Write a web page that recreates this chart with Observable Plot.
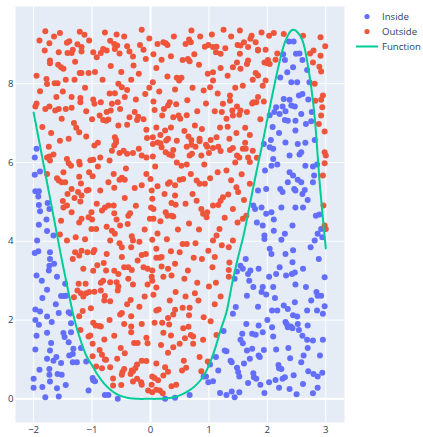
<!DOCTYPE html>
<html>
<head>
<meta charset="utf-8">
<script src="https://cdn.jsdelivr.net/npm/d3@7"></script>
<script src="https://cdn.jsdelivr.net/npm/@observablehq/plot@0.6"></script>
<style>
  body { margin: 0; background: #fff; }
  #wrap { position: relative; width: 423px; height: 437px; font-family: 'Open Sans', sans-serif; overflow: visible; }
  #legend { position: absolute; left: 354px; top: 9px; width: 69px; font-size: 9.6px; line-height: 15px; color: #2a3f5f; white-space: nowrap; }
  #legend .row { display: flex; align-items: center; height: 15px; white-space: nowrap; }
  #legend svg { width: 28px; height: 15px; flex: none; }
</style>
</head>
<body>
<div id="wrap"><div id="chart"></div><div id="legend"></div></div>
<script>
const xTicks = [-2, -1, 0, 1, 2, 3];
const yTicks = [0, 2, 4, 6, 8];
const zeroTick = [0];

const seriesNames = ["Inside", "Outside", "Function"];
const seriesColors = ["#636efa", "#EF553B", "#00cc96"];

// function curve
const fnX = [-2,-1.9,-1.8,-1.7,-1.6,-1.5,-1.4,-1.3,-1.2,-1.1,-1.0,-0.9,-0.8,-0.7,-0.6,-0.5,-0.4,-0.3,-0.2,-0.1,0,0.1,0.2,0.3,0.4,0.5,0.6,0.7,0.8,0.9,1.0,1.1,1.2,1.3,1.4,1.5,1.6,1.7,1.8,1.9,2.0,2.1,2.2,2.3,2.4,2.45,2.5,2.6,2.7,2.8,2.9,3.0];
const fnY = [7.27,6.5,5.72,4.95,4.17,3.4,2.68,2.0,1.5,1.1,0.85,0.6,0.4,0.25,0.14,0.07,0.03,0.01,0.0,0.0,0.0,0.0,0.005,0.015,0.04,0.09,0.16,0.25,0.38,0.56,0.85,1.25,1.75,2.2,2.95,3.6,4.2,4.93,5.67,6.37,7.1,7.82,8.5,9.05,9.34,9.37,9.33,9.1,8.4,7.3,5.4,3.82];

// points under the curve
const inside = [
[-2.0,0.51],[-2.0,0.28],[-1.97,2.27],[-1.97,2.0],[-1.97,1.25],[-1.91,1.88],[-1.89,2.22],[-1.9,0.74],[-1.85,2.56],[-1.8,0.04],[-1.77,2.09],[-1.77,1.68],[-1.77,1.02],[-1.73,0.76],[-1.72,1.23],[-1.7,1.42],[-1.73,0.61],[-1.72,0.44],[-1.69,1.95],[-1.66,0.97],[-1.61,1.06],[-1.6,0.27],[-1.57,2.18],[-1.57,0.06],[-1.59,0.63],[-1.53,0.91],[-1.52,0.61],[-1.53,2.61],[-1.49,1.67],[-1.47,1.57],[-1.48,2.61],[-1.44,2.62],[-1.4,1.44],[-1.37,2.17],[-1.39,1.1],[-1.36,1.69],[-1.36,1.92],[-1.33,0.93],[-1.33,1.14],[-1.32,1.27],[-1.26,0.93],[-1.19,1.29],[-1.1,0.95],[-1.06,0.21],[-0.99,0.53],[-0.98,0.47],[-0.95,0.45],[-0.78,0.1],[-0.72,0.1],[-0.56,0.0],[0.25,0.0],[0.42,0.03],[0.67,0.1],[0.91,0.57],[0.95,0.57],[1.02,0.87],[0.99,0.42],[1.07,0.45],[1.12,1.06],[1.16,0.72],[1.19,0.15],[1.25,1.72],[1.27,1.23],[1.3,1.21],[1.3,0.1],[1.37,0.97],[1.39,0.93],[1.39,0.19],[1.41,2.16],[1.44,0.04],[1.46,2.33],[1.48,0.79],[1.5,0.68],[1.52,0.57],[1.52,0.17],[1.54,1.5],[1.57,1.65],[1.58,1.41],[1.64,1.9],[1.65,2.62],[1.65,1.23],[1.67,0.4],[1.7,1.02],[1.74,1.65],[1.74,1.27],[1.76,0.65],[1.77,0.55],[1.8,1.63],[1.81,0.51],[1.84,2.34],[1.85,1.86],[1.85,1.1],[1.87,1.06],[1.88,0.36],[1.9,2.71],[1.92,1.69],[1.94,1.24],[1.98,2.65],[2.03,0.42],[2.08,1.82],[2.1,1.58],[2.08,2.24],[2.13,2.56],[2.14,0.48],[2.17,2.24],[2.19,0.86],[2.2,0.78],[2.2,0.28],[2.24,0.76],[2.26,0.51],[2.28,2.37],[2.31,1.95],[2.33,1.9],[2.35,2.28],[2.35,1.82],[2.36,1.29],[2.38,0.25],[2.39,1.03],[2.4,1.84],[2.43,1.79],[2.44,2.12],[2.47,2.45],[2.51,2.09],[2.52,1.9],[2.54,1.75],[2.58,0.93],[2.61,0.38],[2.62,1.1],[2.68,2.24],[2.69,1.86],[2.68,1.5],[2.69,1.29],[2.78,1.48],[2.79,0.63],[2.78,0.14],[2.84,2.71],[2.86,2.62],[2.85,2.24],[2.86,0.57],[2.86,0.28],[2.9,1.1],[2.92,2.62],[2.94,0.66],[2.95,2.16],[2.98,2.35],
[-1.95,1.6],[-1.85,0.3],[-1.62,2.4],[-1.45,0.35],[-1.4,2.2],[2.0,2.0],[2.3,0.55],[2.5,0.12],[2.7,0.7],[2.95,1.5],[2.6,1.6],[2.45,0.6],[1.6,0.9],[1.95,0.15],[2.15,1.25],[2.75,2.5],
[-1.98,6.13],[-1.95,6.35],[-1.98,5.69],[-1.89,5.77],[-1.97,5.27],[-1.91,5.27],[-1.92,5.14],[-1.91,4.92],[-1.89,4.76],[-1.76,4.97],[-1.73,4.82],[-1.91,4.42],[-1.78,4.55],[-1.77,4.26],[-1.66,4.15],[-1.94,4.02],[-1.98,3.7],[-1.92,3.75],[-1.72,3.72],[-1.72,3.55],[-1.73,3.38],[-1.65,3.43],[-1.95,3.13],[-1.86,3.0],[-1.6,3.1],[-1.46,2.92],[-1.74,3.26],[-1.77,2.77],
[1.94,6.47],[2.1,6.35],[2.1,6.09],[2.17,5.95],[2.07,5.92],[1.96,5.8],[2.31,6.51],[2.38,6.18],[2.52,6.47],[2.58,6.26],[2.65,5.92],[2.78,5.9],[2.8,5.67],[2.78,5.5],[2.85,5.95],[2.35,5.5],[2.38,5.75],[2.44,5.67],[2.52,5.56],[2.58,5.5],[2.46,5.33],[2.48,5.29],[2.6,5.2],[2.22,5.33],[2.26,5.25],[2.24,4.86],[1.98,5.33],[1.84,5.29],[1.76,4.91],[1.79,4.82],[1.9,4.86],[1.98,4.7],[2.07,4.74],[2.11,4.55],[2.11,4.27],[1.82,4.48],[1.92,4.4],[1.95,4.15],[1.95,4.06],[2.04,3.81],[2.07,3.68],[2.24,4.04],[2.3,4.19],[2.31,3.68],[2.21,3.34],[2.32,3.13],[2.43,4.4],[2.48,4.86],[2.44,3.77],[2.43,3.47],[2.47,3.21],[2.42,3.17],[2.48,2.9],[2.61,3.3],[2.66,2.84],[2.69,5.05],[2.61,4.86],[2.64,5.3],[2.74,3.85],[2.81,4.02],[2.83,4.65],[2.89,4.68],[2.92,4.31],[2.86,4.19],[2.94,4.1],[2.88,3.55],[2.98,3.09],[1.58,3.3],[1.63,3.55],[1.71,3.26],[1.67,3.17],[1.69,3.0],[1.76,2.84],[1.85,3.3],[1.92,2.84],[2.03,3.1],[2.15,3.17],[2.1,2.84],[1.44,3.05],[1.48,3.23],[1.54,3.38],
[2.37,9.07],[2.45,9.07],[2.49,8.76],[2.55,8.77],[2.27,8.75],[2.44,8.42],[2.34,8.29],[2.22,8.16],[2.41,8.04],[2.51,8.04],[2.68,8.35],[2.72,8.04],[2.54,7.7],[2.6,7.74],[2.38,7.59],[2.28,7.61],[2.26,7.42],[2.15,7.4],[2.31,7.3],[2.41,7.45],[2.47,7.42],[2.04,7.2],[2.12,7.28],[2.21,7.23],[2.3,7.08],[2.35,7.06],[2.48,7.06],[2.58,7.23],[2.66,6.98],[2.75,7.05],[2.76,7.28],[2.09,6.9],[2.06,6.57],[2.48,6.81],[2.04,6.39],[2.81,6.57],
[2.65,6.5],[2.2,6.75],[2.55,6.2],[2.7,7.6],[2.3,8.6],[2.6,8.6]
];

// points above the curve
const outside = [
[-1.25,2.75],[-1.19,2.68],[-1.1,2.68],[-1.05,2.71],[-1.15,2.6],[-1.31,2.58],[-1.16,2.23],[-1.02,2.3],[-0.96,2.72],[-0.78,2.61],[-0.85,2.75],[-0.79,2.5],[-0.69,2.48],[-0.56,2.75],[-0.52,2.14],[-0.49,2.18],[-0.34,2.51],[-0.33,2.1],[-0.19,2.34],[-0.98,1.93],[-0.94,1.86],[-0.88,1.85],[-0.85,1.84],[-1.2,1.75],[-1.06,1.58],[-1.03,1.61],[-0.99,1.4],[-0.99,1.08],[-0.87,1.24],[-0.79,1.51],[-0.83,1.12],[-0.78,1.0],[-0.76,0.99],[-0.93,0.82],[-0.83,0.78],[-0.64,0.34],[-0.57,1.02],[-0.51,1.29],[-0.44,1.16],[-0.45,0.76],[-0.48,0.68],[-0.49,0.61],[-0.33,1.84],[-0.33,1.69],[-0.45,1.9],[-0.28,1.42],[-0.22,1.42],[-0.32,0.72],[-0.3,0.7],[-0.26,0.78],[-0.23,0.87],[-0.3,0.44],[-0.16,0.42],[-0.07,0.96],[-0.07,1.55],[-0.05,1.41],[0.05,2.64],[0.07,1.93],[0.1,2.24],[0.14,2.27],[0.18,1.37],[0.2,1.93],[0.22,1.68],[0.3,2.05],[0.32,1.89],[0.33,2.5],[0.35,1.61],[0.39,2.14],[0.42,2.26],[0.43,2.71],[0.3,1.17],[0.39,1.31],[0.5,1.4],[0.55,2.31],[0.56,1.79],[0.59,1.54],[0.65,1.83],[0.66,2.12],[0.67,2.31],[0.69,1.62],[0.73,1.58],[0.73,1.4],[0.76,2.68],[0.82,2.5],[0.91,2.07],[1.03,1.97],[1.13,1.62],[0.98,0.95],[0.87,0.7],[0.84,1.06],[0.57,0.97],[0.61,0.79],[0.54,0.72],[0.44,0.36],[0.36,0.32],[0.3,0.69],[0.25,0.8],[0.22,0.59],[0.16,0.21],[0.13,0.47],[0.07,0.53],[0.03,0.57],[0.02,0.36],[-0.04,0.21],[0.03,0.17],[0.1,0.23],[0.21,0.14],[-0.15,0.97],[-0.15,0.36],[-0.23,0.51],[-0.34,0.63],[-0.64,0.52],[-0.69,0.8],
[-0.62,1.6],[-0.7,2.0],[-0.1,2.6],[0.9,1.5],[1.1,2.4],[1.2,2.6],[-1.22,2.1],[-0.4,2.4],[0.6,2.6],[-0.15,1.9],[0.1,0.9],[-0.5,0.35],
[-1.74,6.4],[-1.77,6.13],[-1.73,6.15],[-1.72,6.05],[-1.77,5.71],[-1.57,5.54],[-1.52,5.5],[-1.46,5.5],[-1.49,5.75],[-1.43,6.09],[-1.4,5.98],[-1.35,5.33],[-1.22,6.02],[-1.21,5.95],[-1.22,5.64],[-1.19,5.47],[-1.24,5.25],[-1.18,5.16],[-1.2,5.01],[-1.09,5.29],[-1.06,5.3],[-1.03,6.06],[-0.98,6.07],[-0.99,5.65],[-0.96,6.43],[-0.86,6.13],[-0.86,5.29],[-0.62,6.43],[-0.59,6.51],[-0.66,6.3],[-0.53,6.24],[-0.46,6.3],[-0.4,6.22],[-0.3,6.24],[-0.15,6.18],[-0.07,6.13],[0.04,6.15],[0.04,6.47],[0.12,6.51],[0.17,6.49],[0.19,6.39],[0.26,6.26],[0.32,6.2],[0.37,6.18],[0.39,6.32],[0.62,6.4],[0.67,6.18],[0.71,6.22],[0.77,6.4],[0.84,6.54],[0.87,6.18],[0.97,6.4],[1.0,6.24],[1.07,6.37],[1.16,6.4],[1.2,6.29],[1.36,6.32],[1.41,6.37],[1.48,6.18],[1.52,6.13],[1.58,6.35],[1.63,6.35],[1.67,6.13],[1.7,6.01],[1.82,6.12],
[-1.36,5.92],[-1.35,4.74],[-1.43,4.91],[-1.49,4.86],[-1.5,5.02],[-1.53,4.52],[-1.55,4.17],[-1.22,4.48],[-1.18,4.57],[-1.06,4.61],[-1.01,4.31],[-1.01,4.74],[-0.93,4.31],[-0.83,4.78],[-0.78,4.86],[-0.72,4.91],[-0.75,4.37],[-0.66,4.27],[-0.61,4.19],[-0.62,4.71],[-0.63,4.91],[-0.62,5.36],[-0.63,5.71],[-0.53,5.56],[-0.49,5.61],[-0.44,5.56],[-0.44,5.1],[-0.35,4.71],[-0.38,4.65],[-0.39,4.44],[-0.32,4.13],[-0.3,4.02],[-0.33,3.85],[-0.19,3.99],[-0.15,5.42],[-0.07,5.71],[0.0,5.58],[0.02,5.29],[0.03,5.08],[0.01,4.86],[0.05,4.82],[-0.01,4.57],[0.05,4.57],[0.03,4.04],[0.1,3.81],[0.1,3.58],[0.16,3.58],[0.19,3.6],[0.19,3.36],[0.17,4.51],[0.26,4.74],[0.29,4.65],[0.36,4.65],[0.39,4.63],[0.36,4.97],[0.43,4.93],[0.3,5.46],[0.33,5.5],[0.42,5.42],[0.5,5.56],[0.56,5.58],[0.42,5.16],[0.53,5.92],[0.62,5.95],[0.69,5.71],[0.79,5.54],[0.84,5.46],[0.93,5.46],[0.79,5.03],[0.87,4.82],[0.9,4.7],[0.96,4.61],[0.97,4.74],[1.07,4.91],[1.16,4.92],[1.2,5.03],[1.24,5.12],[1.33,5.19],[1.41,4.82],[1.47,5.37],[1.5,5.25],[1.18,4.31],[1.13,4.15],[1.07,4.02],[0.99,3.76],[1.06,3.34],[0.74,3.58],[0.64,3.26],[0.55,3.93],[0.62,3.93],[0.5,3.72],[0.42,3.43],[0.36,3.13],[0.3,3.3],[0.1,2.83],[-0.05,3.3],[-0.08,3.68],[-0.12,3.34],[0.03,3.26],[0.02,3.1],[0.03,3.0],[-0.22,3.51],[-0.32,3.27],[-0.38,3.34],[-0.45,3.34],[-0.49,3.6],[-0.55,3.17],[-0.58,2.96],[-0.69,2.96],[-0.76,3.26],[-0.81,3.0],[-0.98,3.25],[-0.98,3.72],[-0.96,3.78],[-1.08,3.72],[-1.18,3.76],[-1.29,3.72],[-1.33,3.55],[-1.22,3.64],[-1.23,2.92],[-1.11,2.92],[-0.91,3.39],[-0.75,3.68],[-0.53,3.95],[-0.49,3.85],[-0.69,4.02],[-1.43,4.02],
[1.34,3.85],[1.35,3.46],[1.34,3.27],[1.34,3.1],[1.41,4.02],[1.49,4.48],[1.58,4.57],[1.64,4.65],[1.7,5.46],
[2.98,6.26],[3.0,6.18],[2.98,5.98],[2.95,5.67],[2.96,4.91],[2.98,4.4],[3.0,4.31],
[-1.28,4.1],[-1.15,3.3],[-1.05,5.75],[-0.92,4.95],[-0.9,5.9],[-0.8,3.45],[-0.72,5.5],[-0.7,6.05],[-0.58,4.55],[-0.55,2.85],[-0.42,5.85],[-0.38,3.05],[-0.27,5.35],[-0.25,4.9],[-0.2,6.35],[-0.1,4.3],[-0.05,2.9],[0.08,5.9],[0.12,4.2],[0.22,3.1],[0.24,5.2],[0.28,4.05],[0.45,6.0],[0.47,4.3],[0.58,3.05],[0.6,4.95],[0.66,4.45],[0.72,5.2],[0.77,3.95],[0.8,2.95],[0.83,4.3],[0.88,3.55],[0.92,5.95],[1.02,5.6],[1.1,3.6],[1.12,2.95],[1.15,5.75],[1.22,3.9],[1.27,4.6],[1.3,5.8],[1.38,5.55],[1.45,6.0],[-1.12,4.05],[-1.3,5.1],[-0.62,3.25],[-0.15,3.65],[0.35,3.75],[0.7,6.45],[-0.85,2.95],[-1.0,4.55],[-0.52,4.4],[0.12,5.4],[-1.42,5.2],[-1.6,5.6],[-1.66,6.2],[1.56,5.7],[1.6,5.05],[1.75,6.3],[1.0,2.85],[-0.3,2.9],
[-1.8,9.33],[-1.55,9.29],[-1.21,9.32],[-1.13,9.24],[-0.58,9.25],[-0.15,9.37],[0.7,9.35],[1.25,9.37],[1.53,9.35],[1.73,9.22],[2.03,9.22],[2.11,9.29],[2.28,9.26],[2.61,9.22],[2.91,9.18],[2.99,8.95],
[-1.73,9.03],[-1.43,9.04],[-1.39,9.08],[-1.18,8.93],[-1.18,8.82],[-1.33,8.86],[-1.35,8.78],[-1.42,8.78],[-1.81,8.84],[-1.72,8.59],[-1.72,8.52],[-1.57,8.8],[-1.58,8.48],[-1.49,8.38],[-1.53,8.42],[-1.29,8.56],[-1.21,8.27],[-1.18,8.27],[-1.06,8.27],[-0.92,8.67],[-0.85,8.78],[-0.81,8.88],[-0.75,8.84],[-0.69,9.09],[-0.62,9.01],[-0.61,8.88],[-0.57,8.97],[-0.53,8.77],[-0.36,8.82],[-0.3,8.69],[-0.29,8.46],[-0.18,8.98],[-0.12,8.86],[-0.08,8.63],[0.12,9.01],[0.22,9.05],[0.26,9.03],[0.29,8.98],[0.19,8.61],[0.6,9.01],[0.66,9.12],[0.69,9.05],[0.64,8.63],[0.67,8.57],[0.83,8.48],[0.93,8.94],[0.99,8.98],[1.07,8.93],[1.13,8.94],[1.12,8.8],[1.2,8.76],[1.54,8.97],[1.67,8.93],[1.71,9.14],[1.8,9.05],[1.84,8.86],[1.97,8.86],[2.17,8.77],[2.14,8.61],[2.01,8.6],[2.0,8.52],[2.73,8.77],[2.91,8.71],[2.78,8.54],[2.89,8.43],[2.92,8.31],[1.49,8.98],[1.53,8.76],[1.65,8.5],[1.67,8.59],[1.48,8.54],[1.41,8.42],[1.54,8.38],[1.8,8.27],[1.84,8.21],[1.07,8.29],
[-1.89,7.81],[-1.97,7.42],[-1.95,7.5],[-1.78,8.12],[-1.77,7.99],[-1.64,8.01],[-1.59,8.01],[-1.61,7.66],[-1.8,7.36],[-1.73,7.42],[-1.57,7.36],[-1.63,7.32],[-1.52,7.11],[-1.45,7.36],[-1.35,7.39],[-1.35,7.66],[-1.2,7.64],[-1.2,7.53],[-1.31,7.0],[-1.27,6.88],[-1.22,6.77],[-1.1,6.66],
[-0.98,7.6],[-0.96,7.49],[-0.85,7.53],[-0.87,7.19],[-0.81,7.08],[-0.76,7.06],[-0.72,7.09],[-0.68,7.32],[-0.66,7.49],[-0.75,7.28],[-0.61,7.76],[-0.61,6.64],[-0.59,6.57],[-0.56,7.53],[-0.55,6.94],[-0.52,7.36],[-0.49,7.91],[-0.44,7.66],[-0.4,7.84],[-0.4,6.96],[-0.36,7.15],[-0.27,7.28],[-0.23,7.08],[-0.21,7.16],[-0.09,7.74],[-0.07,6.83],[-0.06,6.62],[0.04,8.04],[0.04,6.64],[0.07,7.33],[0.1,6.89],
[0.2,7.19],[0.23,7.36],[0.29,8.18],[0.3,7.45],[0.33,7.53],[0.25,6.81],[0.27,6.56],[0.35,6.89],[0.39,7.15],[0.45,8.15],[0.49,8.08],[0.53,8.15],[0.44,7.48],[0.48,7.19],[0.51,7.11],[0.63,7.58],[0.65,6.66],[0.7,6.57],[0.76,6.94],[0.84,6.6],[0.91,7.83],[1.02,7.91],[1.07,8.08],[1.03,6.57],[1.13,6.64],[1.19,6.89],[1.22,7.28],[1.24,7.49],[1.3,7.11],[1.32,6.91],[1.36,7.7],[1.36,7.57],[1.4,7.32],[1.41,7.19],[1.48,7.42],[1.52,7.21],[1.54,7.32],[1.62,6.88],[1.65,7.28],[1.74,7.5],[1.81,7.53],[1.84,7.66],[1.94,7.55],
[1.95,8.54],[2.04,8.5],[1.84,8.84],[1.97,8.08],[1.92,7.95],[1.76,7.53],
[2.79,8.84],[2.81,8.0],[2.95,7.7],[2.92,7.59],[2.94,7.4],[2.92,7.19],[2.98,6.79],[2.88,6.98],[2.82,7.57],
[-1.95,8.2],[-1.9,9.1],[-1.65,9.2],[-1.45,8.1],[-1.4,6.6],[-1.3,8.1],[-1.12,7.9],[-1.05,9.1],[-1.0,7.1],[-0.95,8.3],[-0.9,6.5],[-0.82,8.1],[-0.7,7.75],[-0.68,8.45],[-0.5,8.3],[-0.45,9.2],[-0.33,8.1],[-0.25,7.6],[-0.2,8.25],[-0.12,7.1],[-0.02,9.15],[-0.02,7.9],[0.05,7.55],[0.1,8.4],[0.15,7.8],[0.17,6.7],[0.35,8.7],[0.4,9.2],[0.42,7.85],[0.55,8.6],[0.58,6.8],[0.62,7.2],[0.72,7.9],[0.75,8.75],[0.8,7.3],[0.85,9.2],[0.88,6.85],[0.95,7.5],[0.98,8.25],[1.05,9.25],[1.1,7.3],[1.15,7.75],[1.2,8.4],[1.28,8.9],[1.32,8.2],[1.35,6.6],[1.45,7.9],[1.47,6.75],[1.58,7.95],[1.6,9.05],[1.7,6.7],[1.75,8.1],[1.88,7.1],[1.9,9.3],[-1.85,6.9],[-1.7,6.75],[-1.55,6.55],[-1.5,7.8],[-1.25,9.0],[-0.98,8.8],[-0.78,9.3],[-0.4,8.95],[0.05,8.75],[0.45,6.55],[0.95,6.45],[1.38,9.2],[-1.1,7.3],[-0.55,8.0],[0.3,6.6],[1.62,6.5]
];

const fnData = fnX.map((x, i) => ({x, y: fnY[i]}));
const fmt = d => (d < 0 ? "\u2212" : "") + Math.abs(d);

const chart = Plot.plot({
  width: 423,
  height: 437,
  marginLeft: 15,
  marginRight: 79,
  marginTop: 6,
  marginBottom: 15,
  style: {fontFamily: "'Open Sans', sans-serif", fontSize: "9.6px", color: "#2a3f5f", background: "transparent", overflow: "visible"},
  x: {domain: [-2.31, 3.32], ticks: xTicks, tickSize: 0, tickPadding: 4, tickFormat: fmt, label: null},
  y: {domain: [-0.6, 9.96], ticks: yTicks, tickSize: 0, tickPadding: 2, tickFormat: fmt, label: null},
  marks: [
    Plot.frame({fill: "#E5ECF6", stroke: "none"}),
    Plot.ruleX(xTicks, {stroke: "white", strokeWidth: 1}),
    Plot.ruleY(yTicks, {stroke: "white", strokeWidth: 1}),
    Plot.ruleX(zeroTick, {stroke: "white", strokeWidth: 2}),
    Plot.ruleY(zeroTick, {stroke: "white", strokeWidth: 2}),
    Plot.dot(inside, {x: d => d[0], y: d => d[1], r: 3, fill: seriesColors[0], stroke: "none"}),
    Plot.dot(outside, {x: d => d[0], y: d => d[1], r: 3, fill: seriesColors[1], stroke: "none"}),
    Plot.line(fnData, {x: "x", y: "y", stroke: seriesColors[2], strokeWidth: 2, curve: "catmull-rom"})
  ]
});
document.getElementById("chart").appendChild(chart);

// legend
const legend = document.getElementById("legend");
seriesNames.forEach((name, i) => {
  const row = document.createElement("div");
  row.className = "row";
  const sw = i < 2
    ? `<svg><circle cx="13" cy="7.5" r="2.6" fill="${seriesColors[i]}"/></svg>`
    : `<svg><line x1="2" x2="24" y1="7.5" y2="7.5" stroke="${seriesColors[i]}" stroke-width="2"/></svg>`;
  row.innerHTML = sw + `<span>${name}</span>`;
  legend.appendChild(row);
});
</script>
</body>
</html>
